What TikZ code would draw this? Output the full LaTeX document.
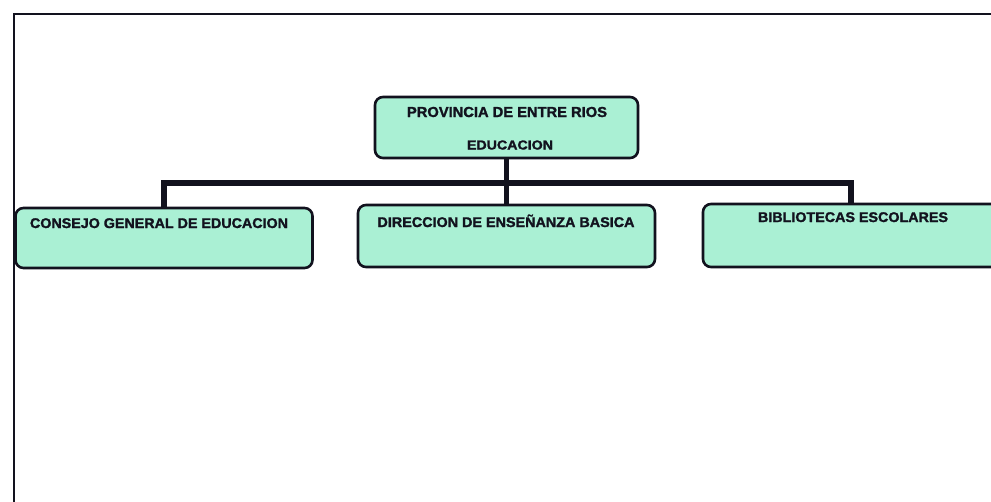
\documentclass[tikz,border=0pt]{standalone}
\usepackage{fontspec}
\setmainfont{Liberation Sans}
\newfontfamily\heavyfont[FakeBold=1.6]{Liberation Sans Bold}
\usepackage{graphicx}
\definecolor{mint}{RGB}{170,240,212}
\definecolor{ink}{RGB}{18,18,30}
\tikzset{
  orgbox/.style={draw=ink, line width=2.6pt, fill=mint, rounded corners=8pt, inner sep=0pt},
  orgtext/.style={inner sep=0pt, anchor=base, text=ink},
  conn/.style={draw=ink, line width=5.5pt, line join=miter},
  frame/.style={draw=ink, line width=2.8pt}
}
\newcommand{\orglabel}[3]{\resizebox{#1pt}{\height}{\fontsize{#2}{#2}\heavyfont #3}}
\begin{document}
\begin{tikzpicture}[x=1pt,y=-1pt]
\useasboundingbox (0,0) rectangle (991,501);
\clip (0,0) rectangle (991,501);
\fill[white] (0,0) rectangle (991,501);
% outer frame
\coordinate (f1) at (1000,14);
\coordinate (f2) at (14,14);
\coordinate (f3) at (14,505);
\draw[frame] (f1) -- (f2) -- (f3);
% boxes
\node[orgbox, minimum width=263pt, minimum height=61pt] (top) at (506.5,127.5) {};
\node[orgbox, minimum width=297pt, minimum height=60pt] (cge) at (164,238) {};
\node[orgbox, minimum width=297pt, minimum height=62pt] (dir) at (506.5,236) {};
\node[orgbox, minimum width=296pt, minimum height=63pt] (bib) at (851,235.5) {};
% connectors
\coordinate (bar) at (506.5,183);
\draw[conn] (top.south) -- (bar);
\draw[conn] (cge.north) |- (bar) -| (bib.north);
\draw[conn] (dir.north) -- (dir.north |- bar);
% texts
\node[orgtext] (t1) at (507,117) {\orglabel{200}{14.5}{PROVINCIA DE ENTRE RIOS}};
\node[orgtext] (t2) at (510,149.5) {\orglabel{86}{13}{EDUCACION}};
\node[orgtext] (t3) at (159,228) {\orglabel{258}{14}{CONSEJO GENERAL DE EDUCACION}};
\node[orgtext] (t4) at (506,227) {\orglabel{257}{14}{DIRECCION DE ENSEÑANZA BASICA}};
\node[orgtext] (t5) at (853,222) {\orglabel{190}{14}{BIBLIOTECAS ESCOLARES}};
\end{tikzpicture}
\end{document}
